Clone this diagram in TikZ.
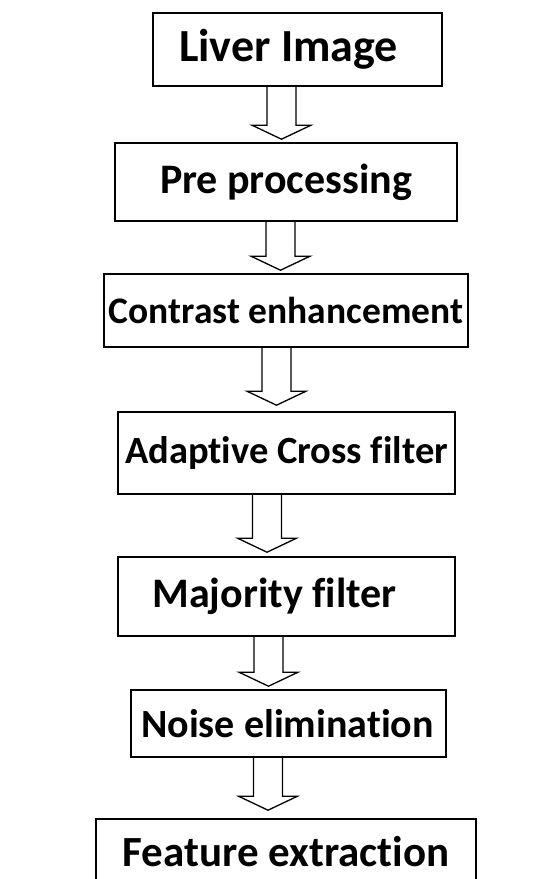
\documentclass[tikz,border=0pt]{standalone}
\usepackage{fontspec}
\setmainfont{Carlito}[Ligatures=NoCommon]
\usetikzlibrary{calc}

\newcommand{\stagefont}[1]{\fontsize{#1}{#1}\selectfont\bfseries}

\begin{document}
\begin{tikzpicture}[
  x=1pt, y=1pt,
  stage/.style={rectangle,draw,line width=1.6pt,inner sep=0pt,align=center,
    font=\stagefont{42}},
  hollow/.style={draw,line width=1.3pt,line join=miter,to path={
    let \p1=(\tikztostart), \p2=(\tikztotarget) in
    (\x1-14.5pt,\y1) -- (\x1-14.5pt,\y2+14pt) -- (\x1-29.5pt,\y2+14pt)
    -- (\x1,\y2) -- (\x1+29.5pt,\y2+14pt) -- (\x1+14.5pt,\y2+14pt) -- (\x1+14.5pt,\y1)}}
]
\useasboundingbox (0,0) rectangle (557,-879);
\clip (0,0) rectangle (557,-879);

\node[stage,minimum width=289pt,minimum height=73pt,font=\stagefont{46}] (liver) at (297.5,-49.5) {Liver Image\hspace{18pt}};
\node[stage,minimum width=342pt,minimum height=78pt] (pre) at (286,-182) {Pre processing};
\node[stage,minimum width=364pt,minimum height=73pt,font=\stagefont{37.5}] (contrast) at (286,-310.5) {Contrast enhancement};
\node[stage,minimum width=337pt,minimum height=82pt,font=\stagefont{38.5}] (cross) at (286.5,-453) {Adaptive Cross filter};
\node[stage,minimum width=337pt,minimum height=79pt] (majority) at (286.5,-596.5) {Majority filter\hspace{24pt}};
\node[stage,minimum width=315pt,minimum height=67pt,font=\stagefont{40}] (noise) at (288.5,-723.5) {Noise elimination\hspace{2pt}};
\node[stage,minimum width=380pt,minimum height=66pt,font=\stagefont{43}] (feature) at (286,-852) {Feature extraction};

% arrows
\draw[hollow] ([xshift=-16pt]liver.south) to ([yshift=3pt]pre.north);
\draw[hollow] ([xshift=-5.5pt]pre.south) to ([yshift=3pt]contrast.north);
\draw[hollow] ([xshift=-9.5pt]contrast.south) to ([yshift=6pt]cross.north);
\draw[hollow] ([xshift=-19.5pt]cross.south) to ([yshift=4pt]majority.north);
\draw[hollow] ([xshift=-18pt]majority.south) to ([yshift=3pt]noise.north);
\draw[hollow] ([xshift=-20.5pt]noise.south) to ([yshift=8pt]feature.north);
\end{tikzpicture}
\end{document}
